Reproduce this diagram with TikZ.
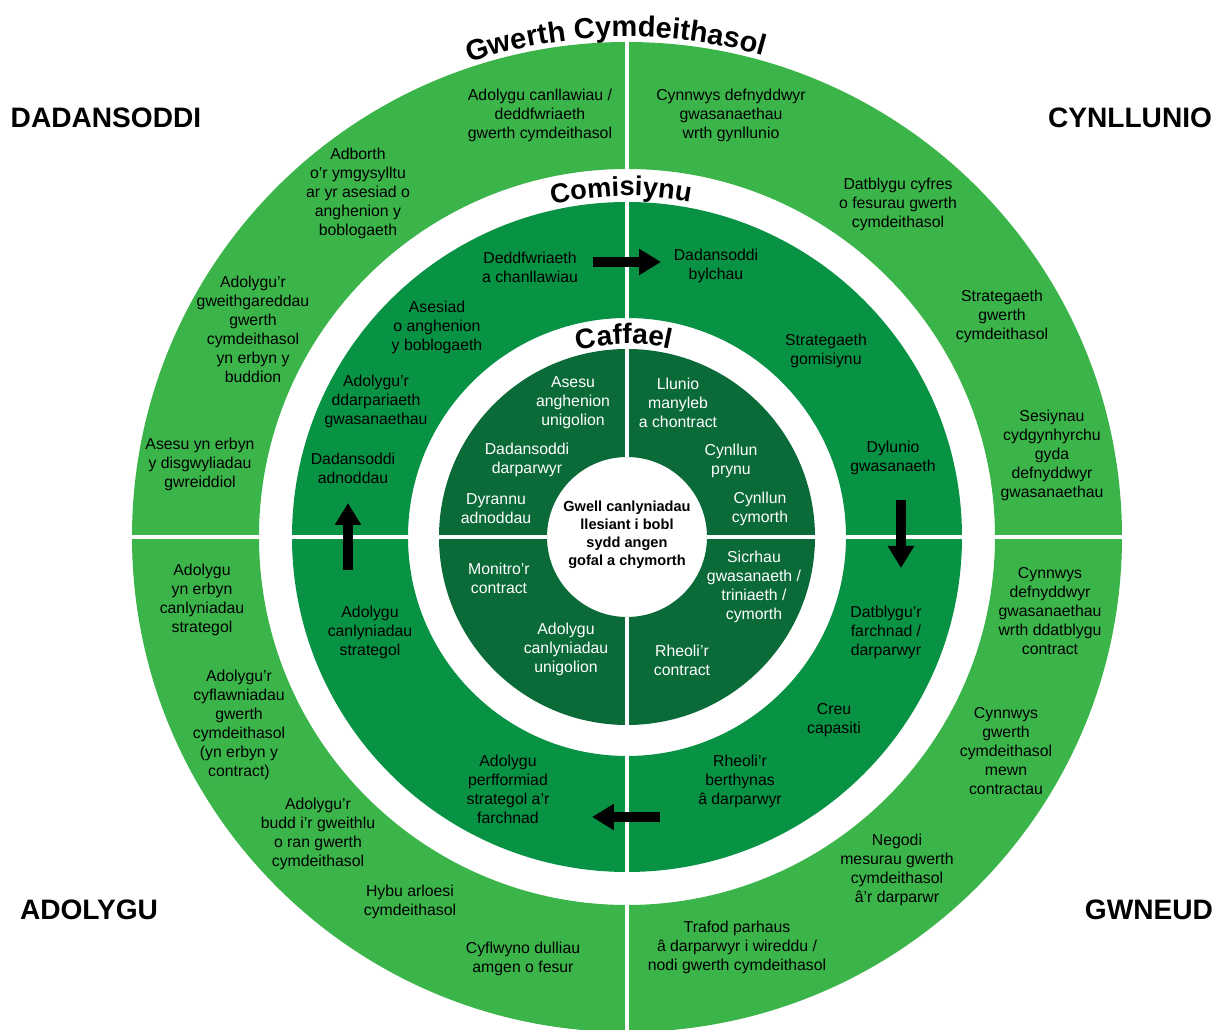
\documentclass[tikz,border=0pt]{standalone}
\usepackage{fontspec}
\setmainfont{Liberation Sans}
\usetikzlibrary{arrows.meta,decorations.text}
\definecolor{myLightGreen}{RGB}{59,181,74}
\definecolor{myGreen}{RGB}{8,146,68}
\definecolor{myDarkGreen}{RGB}{10,106,56}

\begin{document}
\begin{tikzpicture}[%
    x=0.02cm, y=0.02cm,
    every node/.style={
        font=\fontsize{9}{10.8}\selectfont,
        align=center,
        inner sep=0pt,
    },
    corner/.style={font=\fontsize{16}{16}\selectfont\bfseries},
    innerTxt/.style={text=white},
    divider/.style={white, line width=0.08cm},
    blockArrow/.style={line width=0.2cm, -{Triangle[length=0.44cm, width=0.5cm]}},
]
% fix the page
\clip (-627,-493) rectangle (597,537);

% draw the three rings
\fill[myLightGreen, even odd rule] (0,0) circle (495) circle (368);
\fill[myGreen, even odd rule] (0,0) circle (335) circle (219);
\fill[myDarkGreen, even odd rule] (0,0) circle (188) circle (80);

% draw white dividers
\foreach \a in {0,90,180,270}{
    \draw[divider] (\a:80) -- (\a:496);
}

% curved ring titles
\path[decorate, decoration={text along path, text align=center,
    text={|\fontsize{16.5}{16.5}\selectfont\bfseries|Gwerth Cymdeithasol}}]
    (151.3:500) arc[start angle=151.3, end angle=31.3, radius=500];
\path[decorate, decoration={text along path, text align=center,
    text={|\fontsize{15.5}{15.5}\selectfont\bfseries|Comisiynu}}]
    (151:341) arc[start angle=151, end angle=31, radius=341];
\path[decorate, decoration={text along path, text align=center,
    text={|\fontsize{16}{16}\selectfont\bfseries|Caffael}}]
    (150.9:193) arc[start angle=150.9, end angle=30.9, radius=193];

% corner labels
\node[corner] (dadansoddi) at (-521,419) {DADANSODDI};
\node[corner] (cynllunio) at (503,419) {CYNLLUNIO};
\node[corner] (adolygu) at (-538,-373) {ADOLYGU};
\node[corner] (gwneud) at (522,-373) {GWNEUD};

% outer ring, top left
\node (o1) at (-87,422) {Adolygu canllawiau /\\deddfwriaeth\\gwerth cymdeithasol};
\node (o2) at (-269,344) {Adborth\\o’r ymgysylltu\\ar yr asesiad o\\anghenion y\\boblogaeth};
\node (o3) at (-374,208) {Adolygu’r\\gweithgareddau\\gwerth\\cymdeithasol\\yn erbyn y\\buddion};
\node (o4) at (-427,73) {Asesu yn erbyn\\y disgwyliadau\\gwreiddiol};
% outer ring, top right
\node (o5) at (104,422) {Cynnwys defnyddwyr\\gwasanaethau\\wrth gynllunio};
\node (o6) at (271,333) {Datblygu cyfres\\o fesurau gwerth\\cymdeithasol};
\node (o7) at (375,221) {Strategaeth\\gwerth\\cymdeithasol};
\node (o8) at (425,82) {Sesiynau\\cydgynhyrchu\\gyda\\defnyddwyr\\gwasanaethau};
% outer ring, bottom right
\node (o9) at (423,-74) {Cynnwys\\defnyddwyr\\gwasanaethau\\wrth ddatblygu\\contract};
\node (o10) at (379,-214) {Cynnwys\\gwerth\\cymdeithasol\\mewn\\contractau};
\node (o11) at (270,-333) {Negodi\\mesurau gwerth\\cymdeithasol\\â’r darparwr};
\node (o12) at (110,-410) {Trafod parhaus\\â darparwyr i wireddu /\\nodi gwerth cymdeithasol};
% outer ring, bottom left
\node (o13) at (-425,-63) {Adolygu\\yn erbyn\\canlyniadau\\strategol};
\node (o14) at (-388,-188) {Adolygu’r\\cyflawniadau\\gwerth\\cymdeithasol\\(yn erbyn y\\contract)};
\node (o15) at (-309,-297) {Adolygu’r\\budd i’r gweithlu\\o ran gwerth\\cymdeithasol};
\node (o16) at (-217,-365) {Hybu arloesi\\cymdeithasol};
\node (o17) at (-104,-422) {Cyflwyno dulliau\\amgen o fesur};

% middle ring
\node (m1) at (-97,270) {Deddfwriaeth\\a chanllawiau};
\node (m2) at (89,271) {Dadansoddi\\bylchau};
\node (m3) at (199,186) {Strategaeth\\gomisiynu};
\node (m4) at (266,79) {Dylunio\\gwasanaeth};
\node (m5) at (259,-95) {Datblygu’r\\farchnad /\\darparwyr};
\node (m6) at (207,-183) {Creu\\capasiti};
\node (m7) at (113,-244) {Rheoli’r\\berthynas\\â darparwyr};
\node (m8) at (-119,-252) {Adolygu\\perfformiad\\strategol a’r\\farchnad};
\node (m9) at (-257,-95) {Adolygu\\canlyniadau\\strategol};
\node (m10) at (-274,69) {Dadansoddi\\adnoddau};
\node (m11) at (-251,136) {Adolygu’r\\ddarpariaeth\\gwasanaethau};
\node (m12) at (-190,210) {Asesiad\\o anghenion\\y boblogaeth};

% inner ring
\node[innerTxt] (i1) at (-54,134) {Asesu\\anghenion\\unigolion};
\node[innerTxt] (i2) at (-100,77) {Dadansoddi\\darparwyr};
\node[innerTxt] (i3) at (-131,28) {Dyrannu\\adnoddau};
\node[innerTxt] (i4) at (51,134) {Llunio\\manyleb\\a chontract};
\node[innerTxt] (i5) at (104,76) {Cynllun\\prynu};
\node[innerTxt] (i6) at (133,28) {Cynllun\\cymorth};
\node[innerTxt] (i7) at (-128,-41) {Monitro’r\\contract};
\node[innerTxt] (i8) at (-61,-112) {Adolygu\\canlyniadau\\unigolion};
\node[innerTxt] (i9) at (127,-50) {Sicrhau\\gwasanaeth /\\triniaeth /\\cymorth};
\node[innerTxt] (i10) at (55,-123) {Rheoli’r\\contract};

% centre
\node[font=\fontsize{8.3}{10.2}\selectfont\bfseries] (centre) at (0,2)
    {Gwell canlyniadau\\llesiant i bobl\\sydd angen\\gofal a chymorth};

% arrows round the middle ring
\coordinate (topTail) at (-34,275);
\coordinate (topTip) at (34,275);
\coordinate (rightTail) at (274,37);
\coordinate (rightTip) at (274,-31);
\coordinate (bottomTail) at (33,-280);
\coordinate (bottomTip) at (-35,-280);
\coordinate (leftTail) at (-279,-33);
\coordinate (leftTip) at (-279,34);
\draw[blockArrow] (topTail) -- (topTip);
\draw[blockArrow] (rightTail) -- (rightTip);
\draw[blockArrow] (bottomTail) -- (bottomTip);
\draw[blockArrow] (leftTail) -- (leftTip);
\end{tikzpicture}
\end{document}
